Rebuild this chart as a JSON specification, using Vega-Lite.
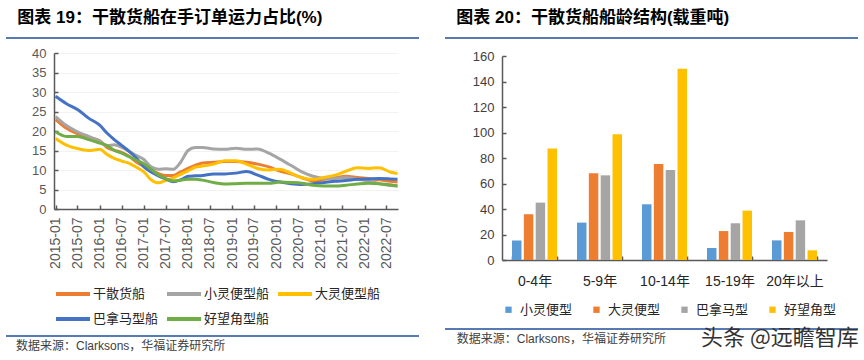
{
  "$schema": "https://vega.github.io/schema/vega-lite/v6.json",
  "background": "white",
  "padding": {"left": 5, "top": 9, "right": 0, "bottom": 0},
  "config": {
    "view": {"stroke": null},
    "font": "Liberation Sans, Noto Sans CJK SC"
  },
  "title": {"text": "头条 @远瞻智库", "orient": "bottom", "anchor": "end", "fontSize": 22, "fontWeight": "normal", "font": "Noto Sans CJK SC", "color": "#333333", "offset": -28},
  "spacing": 24,
  "resolve": {"scale": {"color": "independent"}, "legend": {"color": "independent"}},
  "hconcat": [
    {
      "spacing": 8,
      "resolve": {"scale": {"color": "independent"}, "legend": {"color": "independent"}},
      "vconcat": [
        {
          "width": 365,
          "height": 1,
          "title": {"text": "图表 19：干散货船在手订单运力占比(%)", "anchor": "start", "fontSize": 17, "fontWeight": "bold", "color": "#000000", "dx": 12, "offset": 10},
          "data": {"values": [{"a": -0.1315, "b": 1}]},
          "mark": {"type": "rule", "color": "#1F4E9A", "strokeWidth": 1.5},
          "encoding": {
            "x": {"field": "a", "type": "quantitative", "scale": {"domain": [0, 1]}, "axis": null},
            "x2": {"field": "b"},
            "y": {"datum": 0, "type": "quantitative", "scale": {"domain": [0, 1]}, "axis": null}
          }
        },
        {
          "width": 344,
          "height": 156,
          "data": {"values": [
            {"d": "2015-01-01", "干散货船": 23.0, "小灵便型船": 23.7, "大灵便型船": 18.1, "巴拿马型船": 28.9, "好望角型船": 19.8},
            {"d": "2015-04-01", "干散货船": 20.7, "小灵便型船": 21.4, "大灵便型船": 16.4, "巴拿马型船": 27.0, "好望角型船": 18.6},
            {"d": "2015-07-01", "干散货船": 19.3, "小灵便型船": 19.8, "大灵便型船": 15.5, "巴拿马型船": 25.5, "好望角型船": 18.6},
            {"d": "2015-10-01", "干散货船": 18.3, "小灵便型船": 18.6, "大灵便型船": 15.0, "巴拿马型船": 23.3, "好望角型船": 17.8},
            {"d": "2016-01-01", "干散货船": 17.5, "小灵便型船": 17.4, "大灵便型船": 15.3, "巴拿马型船": 21.5, "好望角型船": 16.9},
            {"d": "2016-03-01", "干散货船": 15.8, "小灵便型船": 16.2, "大灵便型船": 14.0, "巴拿马型船": 19.5, "好望角型船": 16.3},
            {"d": "2016-05-01", "干散货船": 15.1, "小灵便型船": 16.5, "大灵便型船": 13.0, "巴拿马型船": 17.8, "好望角型船": 15.0},
            {"d": "2016-07-01", "干散货船": 14.5, "小灵便型船": 15.8, "大灵便型船": 12.3, "巴拿马型船": 16.3, "好望角型船": 14.3},
            {"d": "2016-09-01", "干散货船": 13.5, "小灵便型船": 14.8, "大灵便型船": 11.7, "巴拿马型船": 14.8, "好望角型船": 13.4},
            {"d": "2016-11-01", "干散货船": 12.0, "小灵便型船": 13.7, "大灵便型船": 10.7, "巴拿马型船": 13.0, "好望角型船": 12.5},
            {"d": "2017-01-01", "干散货船": 11.0, "小灵便型船": 12.7, "大灵便型船": 9.5, "巴拿马型船": 10.8, "好望角型船": 11.6},
            {"d": "2017-03-01", "干散货船": 10.0, "小灵便型船": 10.8, "大灵便型船": 7.5, "巴拿马型船": 9.5, "好望角型船": 10.2},
            {"d": "2017-05-01", "干散货船": 9.1, "小灵便型船": 10.2, "大灵便型船": 6.7, "巴拿马型船": 8.5, "好望角型船": 8.7},
            {"d": "2017-07-01", "干散货船": 8.6, "小灵便型船": 10.3, "大灵便型船": 7.3, "巴拿马型船": 7.7, "好望角型船": 7.8},
            {"d": "2017-09-01", "干散货船": 8.6, "小灵便型船": 10.2, "大灵便型船": 8.0, "巴拿马型船": 7.0, "好望角型船": 7.2},
            {"d": "2017-11-01", "干散货船": 9.5, "小灵便型船": 12.0, "大灵便型船": 8.9, "巴拿马型船": 7.5, "好望角型船": 7.4},
            {"d": "2018-01-01", "干散货船": 10.4, "小灵便型船": 15.0, "大灵便型船": 9.8, "巴拿马型船": 8.4, "好望角型船": 7.6},
            {"d": "2018-03-01", "干散货船": 11.2, "小灵便型船": 15.8, "大灵便型船": 10.7, "巴拿马型船": 8.5, "好望角型船": 7.6},
            {"d": "2018-05-01", "干散货船": 11.8, "小灵便型船": 15.8, "大灵便型船": 11.0, "巴拿马型船": 8.6, "好望角型船": 7.4},
            {"d": "2018-08-01", "干散货船": 12.0, "小灵便型船": 15.4, "大灵便型船": 11.5, "巴拿马型船": 9.0, "好望角型船": 6.8},
            {"d": "2018-11-01", "干散货船": 12.2, "小灵便型船": 15.3, "大灵便型船": 12.4, "巴拿马型船": 9.0, "好望角型船": 6.4},
            {"d": "2019-02-01", "干散货船": 12.2, "小灵便型船": 15.6, "大灵便型船": 12.4, "巴拿马型船": 9.2, "好望角型船": 6.5},
            {"d": "2019-05-01", "干散货船": 12.0, "小灵便型船": 15.3, "大灵便型船": 11.5, "巴拿马型船": 9.6, "好望角型船": 6.6},
            {"d": "2019-08-01", "干散货船": 11.5, "小灵便型船": 15.4, "大灵便型船": 10.4, "巴拿马型船": 8.7, "好望角型船": 6.6},
            {"d": "2019-11-01", "干散货船": 10.8, "小灵便型船": 14.3, "大灵便型船": 10.0, "巴拿马型船": 7.6, "好望角型船": 6.6},
            {"d": "2020-02-01", "干散货船": 9.7, "小灵便型船": 12.8, "大灵便型船": 10.2, "巴拿马型船": 6.9, "好望角型船": 6.9},
            {"d": "2020-05-01", "干散货船": 9.0, "小灵便型船": 11.2, "大灵便型船": 9.2, "巴拿马型船": 6.5, "好望角型船": 6.8},
            {"d": "2020-08-01", "干散货船": 8.0, "小灵便型船": 9.5, "大灵便型船": 8.0, "巴拿马型船": 6.3, "好望角型船": 6.6},
            {"d": "2020-11-01", "干散货船": 7.2, "小灵便型船": 8.4, "大灵便型船": 7.6, "巴拿马型船": 6.5, "好望角型船": 6.1},
            {"d": "2021-02-01", "干散货船": 7.6, "小灵便型船": 7.9, "大灵便型船": 8.1, "巴拿马型船": 6.8, "好望角型船": 5.9},
            {"d": "2021-05-01", "干散货船": 8.0, "小灵便型船": 7.9, "大灵便型船": 8.7, "巴拿马型船": 7.1, "好望角型船": 5.9},
            {"d": "2021-08-01", "干散货船": 8.4, "小灵便型船": 8.0, "大灵便型船": 9.7, "巴拿马型船": 7.3, "好望角型船": 6.1},
            {"d": "2021-11-01", "干散货船": 8.1, "小灵便型船": 7.7, "大灵便型船": 10.6, "巴拿马型船": 7.6, "好望角型船": 6.4},
            {"d": "2022-02-01", "干散货船": 7.8, "小灵便型船": 7.2, "大灵便型船": 10.4, "巴拿马型船": 7.7, "好望角型船": 6.6},
            {"d": "2022-05-01", "干散货船": 7.5, "小灵便型船": 6.5, "大灵便型船": 10.6, "巴拿马型船": 7.8, "好望角型船": 6.5},
            {"d": "2022-08-01", "干散货船": 7.1, "小灵便型船": 6.0, "大灵便型船": 9.5, "巴拿马型船": 7.7, "好望角型船": 6.2},
            {"d": "2022-10-01", "干散货船": 6.9, "小灵便型船": 5.9, "大灵便型船": 9.1, "巴拿马型船": 7.6, "好望角型船": 5.9}
          ]},
          "transform": [{"fold": ["干散货船", "小灵便型船", "大灵便型船", "巴拿马型船", "好望角型船"], "as": ["series", "value"]}],
          "mark": {"type": "line", "strokeWidth": 3, "interpolate": "monotone"},
          "encoding": {
            "x": {
              "field": "d", "type": "temporal",
              "scale": {"type": "utc", "domain": [{"year": 2014, "month": 12, "date": 19, "utc": true}, {"year": 2022, "month": 10, "date": 5, "utc": true}]},
              "axis": {"title": null, "format": "%Y-%m", "labelAngle": -90, "tickCount": {"interval": "month", "step": 6}, "grid": false, "labelFontSize": 14, "labelColor": "#595959", "domainColor": "#595959", "domainWidth": 1.5, "tickColor": "#595959", "tickWidth": 1.5, "tickSize": -4, "labelPadding": 12, "labelOverlap": false, "labelFlush": false}
            },
            "y": {
              "field": "value", "type": "quantitative",
              "scale": {"domain": [0, 40], "nice": false},
              "axis": {"title": null, "values": [0, 5, 10, 15, 20, 25, 30, 35, 40], "labelFontSize": 13, "labelColor": "#595959", "domainColor": "#595959", "domainWidth": 1.5, "tickColor": "#595959", "tickWidth": 1.5, "tickSize": -4, "gridColor": "#f2f2f2", "minExtent": 48, "labelPadding": 12}
            },
            "color": {
              "field": "series", "type": "nominal",
              "sort": ["干散货船", "小灵便型船", "大灵便型船", "巴拿马型船", "好望角型船"],
              "scale": {"domain": ["干散货船", "小灵便型船", "大灵便型船", "巴拿马型船", "好望角型船"], "range": ["#ED7D31", "#A5A5A5", "#FFC000", "#4472C4", "#70AD47"]},
              "legend": {"title": null, "orient": "bottom", "columns": 3, "symbolType": "M-1,0H5.8", "symbolSize": 100, "symbolStrokeWidth": 4, "labelOffset": 25, "labelFontSize": 13, "labelColor": "#262626", "columnPadding": 0, "rowPadding": 9, "offset": 18, "padding": 0}
            }
          }
        },
        {
          "width": 365,
          "height": 20,
          "data": {"values": [{"t": "数据来源：Clarksons，华福证券研究所", "a": -0.1315, "b": 1, "x": -0.1041}]},
          "layer": [
            {
              "mark": {"type": "rule", "color": "#1F4E9A", "strokeWidth": 1.5},
              "encoding": {
                "x": {"field": "a", "type": "quantitative", "scale": {"domain": [0, 1]}, "axis": null},
                "x2": {"field": "b"},
                "y": {"datum": 1, "type": "quantitative", "scale": {"domain": [0, 1]}, "axis": null}
              }
            },
            {
              "mark": {"type": "text", "align": "left", "baseline": "middle", "fontSize": 12, "color": "#404040"},
              "encoding": {
                "text": {"field": "t"},
                "x": {"field": "x", "type": "quantitative"},
                "y": {"datum": 0.5, "type": "quantitative"}
              }
            }
          ]
        }
      ]
    },
    {
      "spacing": 11,
      "resolve": {"scale": {"color": "independent"}, "legend": {"color": "independent"}},
      "vconcat": [
        {
          "width": 356,
          "height": 1,
          "title": {"text": "图表 20：干散货船船龄结构(载重吨)", "anchor": "start", "fontSize": 17, "fontWeight": "bold", "color": "#000000", "dx": 12, "offset": 10},
          "data": {"values": [{"a": -0.1601, "b": 1}]},
          "mark": {"type": "rule", "color": "#1F4E9A", "strokeWidth": 1.5},
          "encoding": {
            "x": {"field": "a", "type": "quantitative", "scale": {"domain": [0, 1]}, "axis": null},
            "x2": {"field": "b"},
            "y": {"datum": 0, "type": "quantitative", "scale": {"domain": [0, 1]}, "axis": null}
          }
        },
        {
          "width": 325,
          "height": 204,
          "data": {"values": [
            {"age": "0-4年", "type": "小灵便型", "v": 15.2},
            {"age": "0-4年", "type": "大灵便型", "v": 35.8},
            {"age": "0-4年", "type": "巴拿马型", "v": 45.0},
            {"age": "0-4年", "type": "好望角型", "v": 87.4},
            {"age": "5-9年", "type": "小灵便型", "v": 29.3},
            {"age": "5-9年", "type": "大灵便型", "v": 68.0},
            {"age": "5-9年", "type": "巴拿马型", "v": 66.4},
            {"age": "5-9年", "type": "好望角型", "v": 98.6},
            {"age": "10-14年", "type": "小灵便型", "v": 43.7},
            {"age": "10-14年", "type": "大灵便型", "v": 75.3},
            {"age": "10-14年", "type": "巴拿马型", "v": 70.6},
            {"age": "10-14年", "type": "好望角型", "v": 150.0},
            {"age": "15-19年", "type": "小灵便型", "v": 9.4},
            {"age": "15-19年", "type": "大灵便型", "v": 22.7},
            {"age": "15-19年", "type": "巴拿马型", "v": 28.8},
            {"age": "15-19年", "type": "好望角型", "v": 38.7},
            {"age": "20年以上", "type": "小灵便型", "v": 15.4},
            {"age": "20年以上", "type": "大灵便型", "v": 22.0},
            {"age": "20年以上", "type": "巴拿马型", "v": 31.1},
            {"age": "20年以上", "type": "好望角型", "v": 7.6}
          ]},
          "mark": {"type": "bar"},
          "encoding": {
            "x": {
              "field": "age", "type": "nominal",
              "sort": ["0-4年", "5-9年", "10-14年", "15-19年", "20年以上"],
              "scale": {"paddingInner": 0.308, "paddingOuter": 0.154},
              "axis": {"title": null, "labelAngle": 0, "labelFontSize": 14, "labelColor": "#262626", "domainColor": "#595959", "domainWidth": 1.5, "tickColor": "#595959", "tickWidth": 1.5, "tickSize": -4, "tickBand": "extent", "labelPadding": 18}
            },
            "xOffset": {
              "field": "type", "type": "nominal",
              "sort": ["小灵便型", "大灵便型", "巴拿马型", "好望角型"],
              "scale": {"paddingInner": 0.2, "paddingOuter": 0}
            },
            "y": {
              "field": "v", "type": "quantitative",
              "scale": {"domain": [0, 160], "nice": false},
              "axis": {"title": null, "values": [0, 20, 40, 60, 80, 100, 120, 140, 160], "grid": false, "labelFontSize": 13, "labelColor": "#404040", "domainColor": "#595959", "domainWidth": 1.5, "tickColor": "#595959", "tickWidth": 1.5, "tickSize": -4, "minExtent": 57, "labelPadding": 12}
            },
            "color": {
              "field": "type", "type": "nominal",
              "sort": ["小灵便型", "大灵便型", "巴拿马型", "好望角型"],
              "scale": {"domain": ["小灵便型", "大灵便型", "巴拿马型", "好望角型"], "range": ["#5B9BD5", "#ED7D31", "#A5A5A5", "#FFC000"]},
              "legend": {"title": null, "orient": "bottom", "direction": "horizontal", "symbolType": "square", "symbolSize": 40, "labelFontSize": 13, "labelColor": "#262626", "columnPadding": 17, "labelOffset": 5, "offset": 15}
            }
          }
        },
        {
          "width": 356,
          "height": 20,
          "data": {"values": [{"t": "数据来源：Clarksons，华福证券研究所", "a": -0.1601, "b": 1, "x": -0.1272}]},
          "layer": [
            {
              "mark": {"type": "rule", "color": "#1F4E9A", "strokeWidth": 1.5},
              "encoding": {
                "x": {"field": "a", "type": "quantitative", "scale": {"domain": [0, 1]}, "axis": null},
                "x2": {"field": "b"},
                "y": {"datum": 1, "type": "quantitative", "scale": {"domain": [0, 1]}, "axis": null}
              }
            },
            {
              "mark": {"type": "text", "align": "left", "baseline": "middle", "fontSize": 12, "color": "#404040"},
              "encoding": {
                "text": {"field": "t"},
                "x": {"field": "x", "type": "quantitative"},
                "y": {"datum": 0.5, "type": "quantitative"}
              }
            }
          ]
        }
      ]
    }
  ]
}
